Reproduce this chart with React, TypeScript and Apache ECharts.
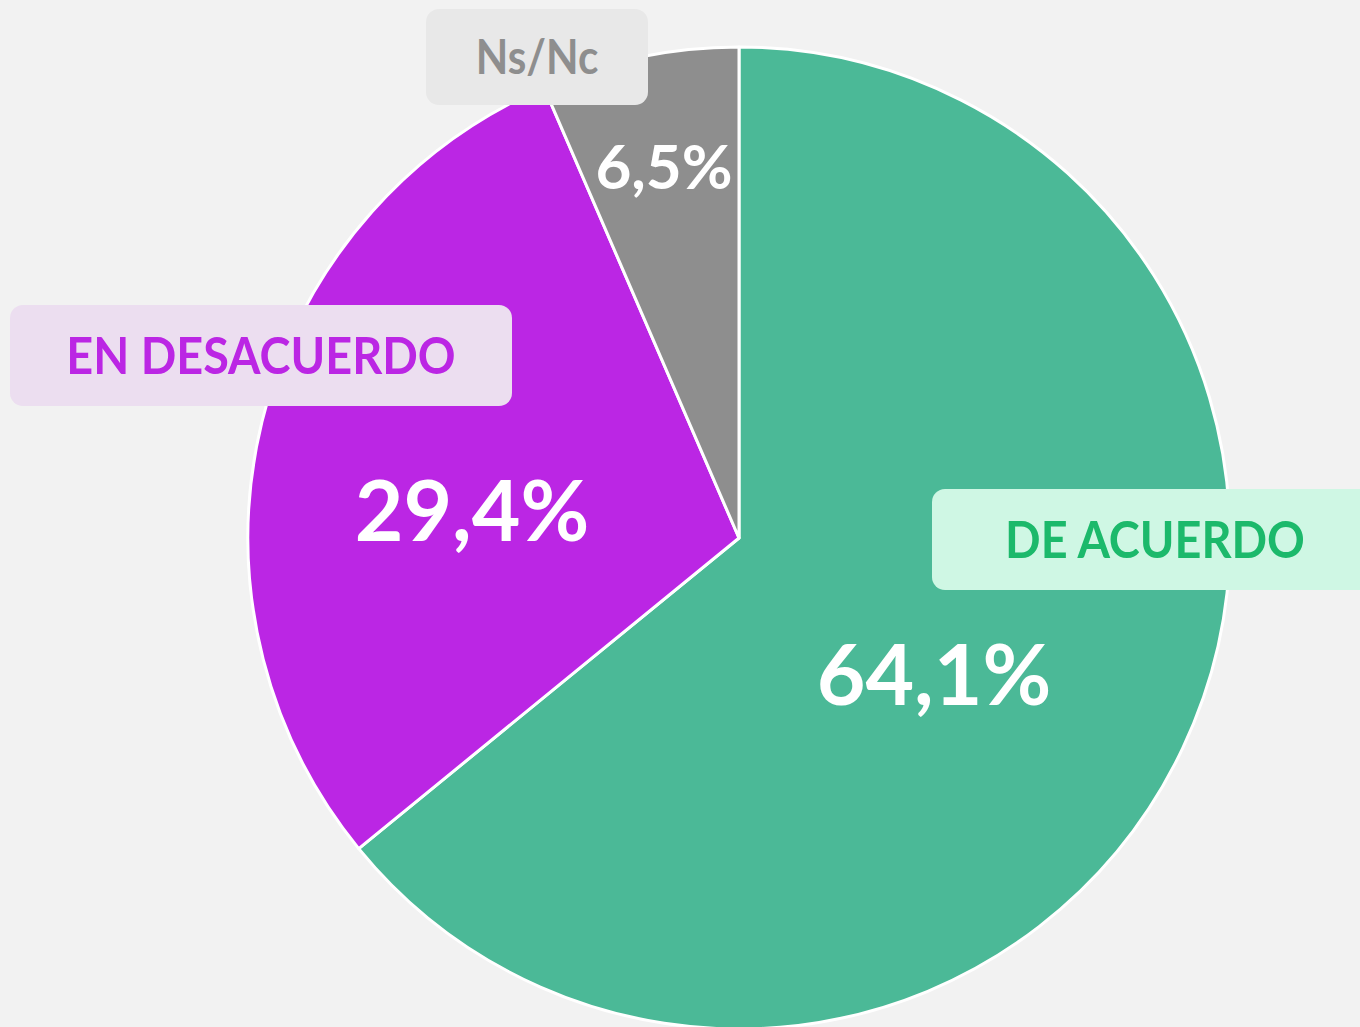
import React, { useEffect, useRef } from "react";
import * as echarts from "echarts";

const categories = ["DE ACUERDO", "EN DESACUERDO", "Ns/Nc"];
const values = [64.1, 29.4, 6.5];
const sliceColors = ["#4bb997", "#bb26e4", "#8e8e8e"];
const tagTextColors = ["#1cb96b", "#bb26e4", "#8e8e8e"];
const tagBgColors = ["#cff7e4", "#ecdef0", "#e8e8e8"];

// layout of the name tags (box x, y, w, h, font size)
const tagBoxes = [
  { x: 932, y: 489, w: 460, h: 101, fs: 52, tx: 1155 },
  { x: 10, y: 305, w: 502, h: 101, fs: 52, tx: 261 },
  { x: 426, y: 9, w: 222, h: 96, fs: 47, tx: 537 },
];
// percent label positions (centre) and font sizes
const pctLabelPos = [
  { x: 934, y: 672, fs: 84 },
  { x: 472, y: 508, fs: 84 },
  { x: 664, y: 165, fs: 62 },
];

const FONT = "Lato, 'Noto Sans', sans-serif";

export default function App() {
  const ref = useRef<HTMLDivElement>(null);
  useEffect(() => {
    document.body.style.margin = "0";
    const chart = echarts.init(ref.current!, undefined, { renderer: "svg" });
    const graphics: any[] = [];
    categories.forEach((name, i) => {
      const b = tagBoxes[i];
      graphics.push({
        type: "rect",
        z: 100,
        shape: { x: b.x, y: b.y, width: b.w, height: b.h, r: 13 },
        style: { fill: tagBgColors[i] },
      });
      graphics.push({
        type: "text",
        z: 101,
        x: b.tx,
        y: b.y + b.h / 2 - 1,
        scaleX: 0.9,
        style: {
          text: name,
          fill: tagTextColors[i],
          font: `bold ${b.fs}px ${FONT}`,
          align: "center",
          verticalAlign: "middle",
        },
      });
    });
    chart.setOption({
      animation: false,
      backgroundColor: "#f2f2f2",
      graphic: graphics,
      series: [
        {
          type: "pie",
          center: [739, 538],
          radius: 491,
          startAngle: 90,
          clockwise: true,
          silent: true,
          itemStyle: { borderColor: "#ffffff", borderWidth: 3 },
          label: {
            show: true,
            position: "inside",
            color: "#ffffff",
            fontFamily: FONT,
            fontWeight: "bold",
            formatter: (p: any) => `${String(p.value).replace(".", ",")}%`,
          },
          labelLine: { show: false },
          labelLayout: (p: any) => {
            const l = pctLabelPos[p.dataIndex];
            return { x: l.x, y: l.y, align: "center", verticalAlign: "middle", fontSize: l.fs };
          },
          data: categories.map((name, i) => ({
            name,
            value: values[i],
            itemStyle: { color: sliceColors[i] },
            label: { fontSize: pctLabelPos[i].fs },
          })),
        },
      ],
    });
    return () => chart.dispose();
  }, []);
  return (
    <div
      ref={ref}
      style={{ position: "fixed", left: 0, top: 0, width: 1360, height: 1027 }}
    />
  );
}
